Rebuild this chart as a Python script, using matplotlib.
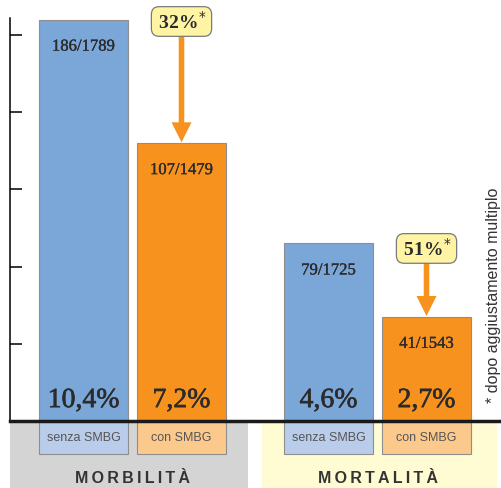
import matplotlib.pyplot as plt
from matplotlib.patches import Rectangle
import matplotlib.patheffects as pe

gruppi = ["MORBILITÀ", "MORTALITÀ"]
serie = ["senza SMBG", "con SMBG"]
morbilita = [10.4, 7.2]
mortalita = [4.6, 2.7]
frazioni = [["186/1789", "107/1479"], ["79/1725", "41/1543"]]
riduzioni = ["32%", "51%"]
nota = "* dopo aggiustamento multiplo"

colori = ["#7ba6d8", "#f7921e"]
colori_chiari = ["#b9cdea", "#fcc98d"]
fondi = ["#d4d4d4", "#fffbd2"]
testo = "#2b2b2b"

plt.rcParams["font.family"] = ["Liberation Serif", "DejaVu Serif"]

fig = plt.figure(figsize=(5.01, 4.88), dpi=100)
ax = fig.add_axes([0, 0, 1, 1])
ax.set_xlim(-0.852, 4.26)
ax.set_ylim(-1.736, 10.907)
for s in ["top", "right", "bottom"]:
    ax.spines[s].set_visible(False)
ax.spines["left"].set_position(("data", -0.75))
ax.spines["left"].set_bounds(0, 10.44)
ax.spines["left"].set_linewidth(1.1)
ax.set_yticks([2, 4, 6, 8, 10])
ax.set_yticklabels([])
ax.set_xticks([])
ax.tick_params(axis="y", direction="in", length=8.6, width=1.1)

valori = [morbilita, mortalita]
larg = 0.908
# fondi sotto l'asse
ax.add_patch(Rectangle((-0.75, -1.736), 2.43, 1.736, color=fondi[0], zorder=0, lw=0))
ax.add_patch(Rectangle((1.82, -1.736), 2.40, 1.736, color=fondi[1], zorder=0, lw=0))

for g, nome in enumerate(gruppi):
    xs = [g * 2.5 + i for i in range(len(serie))]
    for i, x in enumerate(xs):
        v = valori[g][i]
        ax.bar(x, v, width=larg, color=colori[i], edgecolor="#8e8e8e", lw=0.8, zorder=2)
        ax.bar(x, 0.855, bottom=-0.855, width=larg, color=colori_chiari[i],
               edgecolor="#8e8e8e", lw=0.8, zorder=2)
        ax.text(x, v - 0.7, frazioni[g][i], ha="center", va="center",
                fontsize=12, color=testo, zorder=3,
                path_effects=[pe.withStroke(linewidth=0.2, foreground=testo)])
        ax.text(x, 0.36, f"{v:.1f}".replace(".", ",") + "%", ha="center",
                va="baseline", fontsize=20, color=testo, zorder=3,
                path_effects=[pe.withStroke(linewidth=0.45, foreground=testo)])
        ax.text(x, -0.45, serie[i], ha="center", va="center", fontsize=9,
                color="#555555", family="Liberation Sans", zorder=3)
    ax.text(sum(xs) / 2, -1.49, "\u2009".join(nome), ha="center", va="center",
            fontsize=11.5, fontweight="bold", color="#333333",
            family="Liberation Sans")

    # freccia di riduzione
    xa = xs[1]
    v = valori[g][1]
    top = [10.35, 4.47][g]
    ax.annotate("", xy=(xa, v + 0.02), xytext=(xa, top - 0.35),
                arrowprops=dict(arrowstyle="simple,head_width=0.72,head_length=0.72,tail_width=0.2",
                                fc=colori[1], ec="none", mutation_scale=20,
                                shrinkA=0, shrinkB=0), zorder=3)
    ax.text(xa, top, "\u2009" + riduzioni[g] + r"$^{*}$" + "\u2009", ha="center",
            va="center", fontsize=14, fontweight="bold", color=testo, zorder=4,
            bbox=dict(boxstyle="round,pad=0.2,rounding_size=0.4", fc="#fff4a3",
                      ec="#7a7a7a", lw=0.9))

ax.plot([-0.75, 4.26], [0, 0], color="#1a1a1a", lw=2.5, zorder=5, clip_on=False)

ax.text(4.18, 3.26, nota, rotation=90, ha="center", va="center", fontsize=11.5,
        color="#333333", family="Liberation Sans")

fig.savefig("out.png", dpi=100)
